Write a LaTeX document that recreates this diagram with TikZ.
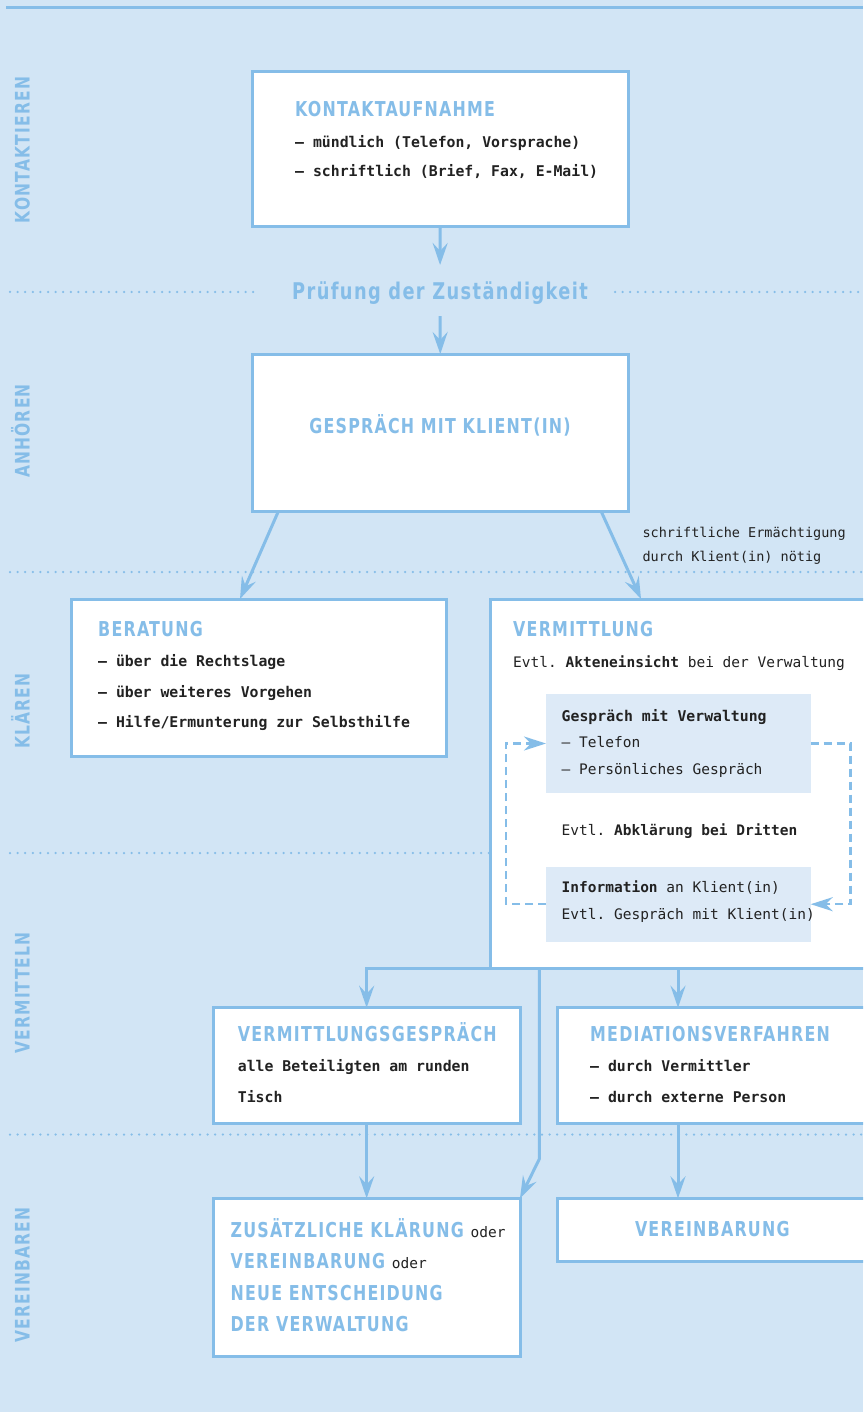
\documentclass[tikz,border=0pt]{standalone}
\usepackage{fontspec}
\setmainfont{DejaVu Sans Mono}
\newfontfamily\tf[FakeStretch=0.86,LetterSpace=6]{DejaVu Sans Condensed Bold}
\usetikzlibrary{arrows.meta,calc}
\definecolor{bg}{HTML}{D2E5F5}
\definecolor{ln}{HTML}{85BDE8}
\definecolor{inn}{HTML}{DDEAF7}
\definecolor{dk}{HTML}{222222}
\tikzset{
 box/.style={draw=ln, line width=3pt, fill=white, anchor=north west, inner sep=0pt, outer sep=0pt},
 innerbox/.style={fill=inn, anchor=north west, inner sep=0pt, outer sep=0pt},
 ttl/.style={anchor=base west, inner sep=0pt, text=ln, font=\tf\fontsize{20.5}{24}\selectfont},
 bd/.style={anchor=base west, inner sep=0pt, text=dk, font=\bfseries\fontsize{14.8}{18}\selectfont},
 rg/.style={anchor=base west, inner sep=0pt, text=dk, font=\fontsize{14.5}{18}\selectfont},
 side/.style={rotate=90, anchor=base, text=ln, font=\tf\fontsize{20}{24}\selectfont, inner sep=0pt},
 conn/.style={draw=ln, line width=3pt, -{Stealth[length=22pt,width=15pt,inset=8pt]}},
 loopline/.style={draw=ln, line width=2.5pt, dash pattern=on 8pt off 5pt, -{Stealth[length=22pt,width=14pt,inset=7pt]}},
 dots/.style={draw=ln, line width=2.5pt, line cap=round, dash pattern=on 0pt off 7.6pt},
}
\newcommand{\od}{{\color{dk}\normalfont\fontsize{14.5}{18}\selectfont oder}}
\frenchspacing
\begin{document}
\begin{tikzpicture}[x=1pt,y=-1pt]
\useasboundingbox (0,0) rectangle (863,1412);
\clip (0,0) rectangle (863,1412);
\fill[bg] (0,0) rectangle (863,1412);
% top rule
\draw[ln, line width=3pt] (6,8) -- (863,8);
% dotted separators
\draw[dots] (10,292) -- (259,292);
\draw[dots] (615,292) -- (863,292);
\draw[dots] (10,572) -- (863,572);
\draw[dots] (10,853) -- (490,853);
\draw[dots] (10,1134.5) -- (863,1134.5);
% side labels
\node[side] (s1) at (29.5,150) {KONTAKTIEREN};
\node[side] (s2) at (29.5,431) {ANHÖREN};
\node[side] (s3) at (29.5,711) {KLÄREN};
\node[side] (s4) at (29.5,993) {VERMITTELN};
\node[side] (s5) at (29.5,1275) {VEREINBAREN};
% boxes
\node[box, minimum width=375.5pt, minimum height=155pt] (k) at (252.5,71.5) {};
\node[box, minimum width=375.5pt, minimum height=157pt] (g) at (252.5,354) {};
\node[box, minimum width=375.7pt, minimum height=157pt] (b) at (71,599) {};
\node[box, minimum width=377pt, minimum height=369pt] (v) at (490,599) {};
\node[innerbox, minimum width=264.7pt, minimum height=99pt] (in1) at (546,694) {};
\node[innerbox, minimum width=264.7pt, minimum height=75pt] (in2) at (546,866.7) {};
\node[box, minimum width=306.7pt, minimum height=115.6pt] (vg) at (213.3,1007.7) {};
\node[box, minimum width=310pt, minimum height=115.6pt] (mv) at (557.3,1007.7) {};
\node[box, minimum width=306.7pt, minimum height=158.4pt] (zk) at (213.3,1198.3) {};
\node[box, minimum width=310pt, minimum height=63.4pt] (ve) at (557.3,1198.3) {};
% texts
\node[ttl] (kt) at (295,117) {KONTAKTAUFNAHME};
\node[bd] (k1) at (295,148) {– mündlich (Telefon, Vorsprache)};
\node[bd] (k2) at (295,177) {– schriftlich (Brief, Fax, E-Mail)};
\node[anchor=base, inner sep=0pt, text=ln, font=\tf\fontsize{23}{27}\selectfont] (pruef) at (440,300) {Prüfung der Zuständigkeit};
\node[ttl, anchor=base] (gt) at (440,433) {GESPRÄCH MIT KLIENT(IN)};
\node[ttl] (bt) at (98,636) {BERATUNG};
\node[bd] (b1) at (98,666.7) {– über die Rechtslage};
\node[bd] (b2) at (98,697) {– über weiteres Vorgehen};
\node[bd] (b3) at (98,727) {– Hilfe/Ermunterung zur Selbsthilfe};
\node[ttl] (vt) at (513,636) {VERMITTLUNG};
\node[rg] (v1) at (513,667) {Evtl. \textbf{Akteneinsicht} bei der Verwaltung};
\node[bd] (i1a) at (561.5,721) {Gespräch mit Verwaltung};
\node[rg] (i1b) at (561.5,747) {– Telefon};
\node[rg] (i1c) at (561.5,774) {– Persönliches Gespräch};
\node[rg] (dr) at (561.5,835) {Evtl. \textbf{Abklärung bei Dritten}};
\node[rg] (i2a) at (561.5,892.7) {\textbf{Information} an Klient(in)};
\node[rg] (i2b) at (561.5,919.3) {Evtl. Gespräch mit Klient(in)};
\node[rg, font=\fontsize{13.5}{17}\selectfont] (an1) at (642.3,537.3) {schriftliche Ermächtigung};
\node[rg, font=\fontsize{13.5}{17}\selectfont] (an2) at (642.3,561.7) {durch Klient(in) nötig};
\node[ttl] (vgt) at (237.7,1041) {VERMITTLUNGSGESPRÄCH};
\node[bd] (vg1) at (237.7,1071.7) {alle Beteiligten am runden};
\node[bd] (vg2) at (237.7,1102.3) {Tisch};
\node[ttl] (mvt) at (590,1041) {MEDIATIONSVERFAHREN};
\node[bd] (mv1) at (590,1071.7) {– durch Vermittler};
\node[bd] (mv2) at (590,1102.7) {– durch externe Person};
\node[ttl] (z1) at (230.4,1237.3) {ZUSÄTZLICHE KLÄRUNG \od};
\node[ttl] (z2) at (230.4,1268.3) {VEREINBARUNG \od};
\node[ttl] (z3) at (230.4,1300) {NEUE ENTSCHEIDUNG};
\node[ttl] (z4) at (230.4,1331.7) {DER VERWALTUNG};
\node[ttl, anchor=base] (vet) at (712.3,1236.7) {VEREINBARUNG};
% connectors
\draw[conn, shorten >=17pt] (k.south) -- (pruef.north);
\draw[conn, shorten <=11pt] (pruef.south) -- (g.north);
\draw[conn] ([xshift=26pt]g.south west) -- ([xshift=169pt]b.north west);
\draw[conn] ([xshift=-27pt]g.south east) -- ([xshift=151pt]v.north west);
\draw[conn] (v.south west) -| (vg.north);
\draw[conn] ([xshift=188pt]v.south west) -- ([xshift=120.7pt]mv.north west);
\draw[conn] ([xshift=49.3pt]v.south west) -- ++(0,191) -- (zk.north east);
\draw[conn] (vg.south) -- (zk.north);
\draw[conn] ([xshift=120.7pt]mv.south west) -- ([xshift=120.7pt]ve.north west);
\draw[loopline] (in2.west) -- ++(-40,0) |- (in1.west);
\draw[loopline] (in1.east) -- ++(40,0) |- (in2.east);
\end{tikzpicture}
\end{document}
